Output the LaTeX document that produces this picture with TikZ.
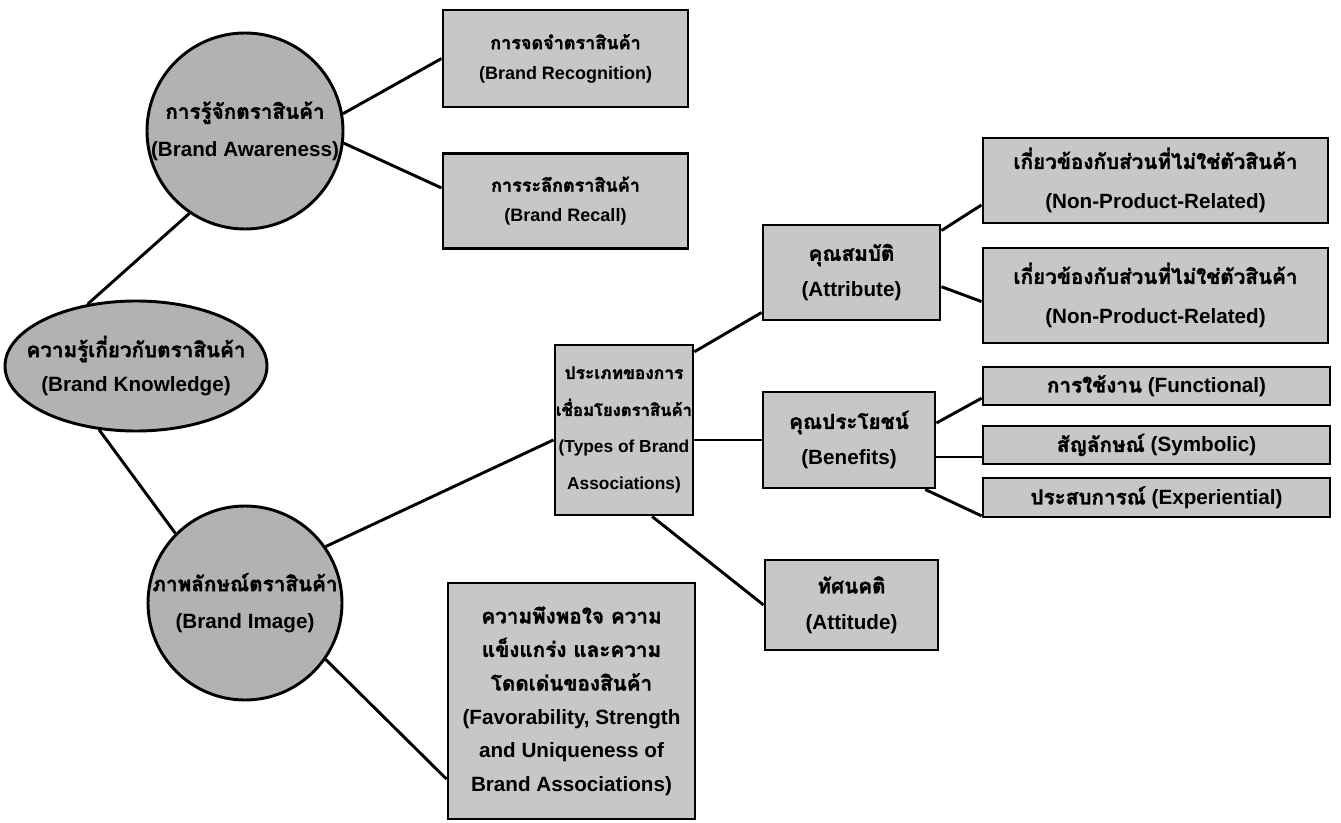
\documentclass[tikz,border=0pt]{standalone}
\usepackage{fontspec}
\setmainfont{Liberation Sans}
\newfontfamily\thfont[Script=Thai, FakeBold=1.6]{Loma}
\usetikzlibrary{shapes.geometric,calc}

\newcommand{\tht}[1]{{\thfont #1}}
\newcommand{\txt}[2]{\fontsize{#1}{#2}\selectfont\bfseries}
\definecolor{boxfill}{gray}{0.78}
\definecolor{ballfill}{gray}{0.70}

\begin{document}
\begin{tikzpicture}[x=0.75pt,y=-0.75pt,
  every node/.style={inner sep=0pt, align=center},
  sz/.style 2 args={minimum width={#1*0.75pt}, minimum height={#2*0.75pt}},
  rbox/.style={draw, line width=2.2pt, fill=boxfill, rectangle, font={\txt{15.5}{27}}},
  ball/.style={draw, line width=2.2pt, fill=ballfill, circle, font={\txt{15.5}{28}}},
  egg/.style={draw, line width=2.2pt, fill=ballfill, ellipse, font={\txt{15.5}{26}}},
  conn/.style={line width=2.2pt}]

\fill[white] (0,0) rectangle (1341,823);
\useasboundingbox (0,0) rectangle (1341,823);

% root and the two main branches
\node[egg, sz={262}{130}] (kn) at (136,366)
  {\makebox[0pt]{\tht{ความรู้เกี่ยวกับตราสินค้า}}\\\makebox[0pt]{(Brand Knowledge)}};
\node[ball, minimum size={196*0.75pt}] (aw) at (245,131)
  {\makebox[0pt]{\tht{การรู้จักตราสินค้า}}\\\makebox[0pt]{(Brand Awareness)}};
\node[ball, minimum size={194*0.75pt}] (img) at (245,603)
  {\makebox[0pt]{\tht{ภาพลักษณ์ตราสินค้า}}\\\makebox[0pt]{(Brand Image)}};

% awareness
\node[rbox, sz={245}{97}, font={\txt{13.5}{22.5}}] (rec) at (565.5,58.5)
  {\tht{การจดจำตราสินค้า}\\(Brand Recognition)};
\node[rbox, sz={245}{95}, font={\txt{13.5}{22.5}}] (rcl) at (565.5,201)
  {\tht{การระลึกตราสินค้า}\\(Brand Recall)};

% image
\node[rbox, sz={138}{170}, font={\txt{13}{27.75}}] (types) at (624,430)
  {\tht{ประเภทของการ}\\\tht{\fontsize{12.5}{27.75}\selectfont เชื่อมโยงตราสินค้า}\\(Types of Brand\\Associations)};
\node[rbox, sz={247}{236}, font={\txt{15.5}{25.2}}] (fsu) at (571.5,701)
  {\tht{ความพึงพอใจ ความ}\\\tht{แข็งแกร่ง และความ}\\\tht{โดดเด่นของสินค้า}\\(Favorability, Strength\\and Uniqueness of\\Brand Associations)};

% types of associations
\node[rbox, sz={177}{95}] (att) at (851.5,272.5)
  {\tht{คุณสมบัติ}\\(Attribute)};
\node[rbox, sz={172}{96}] (ben) at (849,440)
  {\tht{คุณประโยชน์}\\(Benefits)};
\node[rbox, sz={173}{90}] (attd) at (851.5,605)
  {\tht{ทัศนคติ}\\(Attitude)};

% attributes
\node[rbox, sz={345}{85}, font={\txt{15.5}{30}}] (np1) at (1155.5,180.5)
  {\tht{เกี่ยวข้องกับส่วนที่ไม่ใช่ตัวสินค้า}\\(Non-Product-Related)};
\node[rbox, sz={345}{95}, font={\txt{15.5}{30}}] (np2) at (1155.5,295.5)
  {\tht{เกี่ยวข้องกับส่วนที่ไม่ใช่ตัวสินค้า}\\(Non-Product-Related)};

% benefits
\node[rbox, sz={347}{38}] (fun) at (1156.5,386) {\tht{การใช้งาน} (Functional)};
\node[rbox, sz={347}{38}] (sym) at (1156.5,445) {\tht{สัญลักษณ์} (Symbolic)};
\node[rbox, sz={347}{39}] (exp) at (1156.5,497.5) {\tht{ประสบการณ์} (Experiential)};

% connectors
\draw[conn] (aw.10) -- (rec.west);
\draw[conn] (aw.353) -- (rcl.174);
\draw[conn] (aw.236) -- (kn.128);
\draw[conn] (kn.240) -- (img.135);
\draw[conn] (img.35) -- (types.188);
\draw[conn] (img.325) -- (fsu.212);
\draw[conn] (types.48) -- (att.204);
\draw[conn] (types.east |- ben.west) -- (ben.west);
\draw[conn] (types.288) -- (attd.west);
\draw[conn] (att.25) -- (np1.188);
\draw[conn] (att.351) -- (np2.182);
\draw[conn] (ben.11) -- (fun.184);
\draw[conn] ($(ben.east)+(0,17)$) -- ($(sym.west)+(0,12)$);
\draw[conn] (ben.327) -- (exp.186);
\end{tikzpicture}
\end{document}
